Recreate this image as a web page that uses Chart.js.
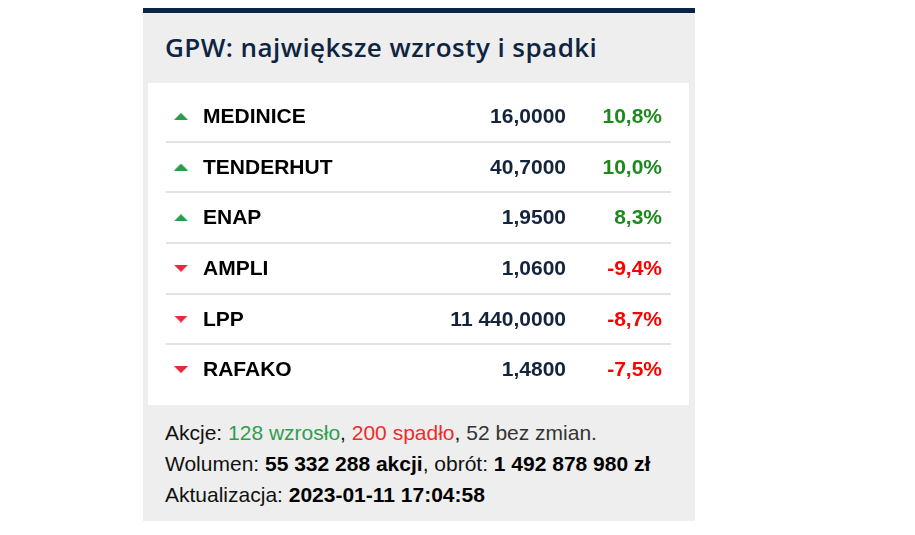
<!DOCTYPE html>
<html lang="pl">
<head>
<meta charset="utf-8">
<script src="https://cdn.jsdelivr.net/npm/chart.js@4/dist/chart.umd.min.js"></script>
<style>
    html, body { margin: 0; padding: 0; background: #ffffff; }
    #panel {
        position: absolute; left: 143px; top: 8px; width: 552px; height: 508px;
        background: #eeeeee; border-top: 5px solid #0a2446;
    }
    #title {
        position: absolute; left: 165px; top: 29px; margin: 0;
        font: 600 26px "Open Sans", sans-serif; letter-spacing: 0.45px;
        color: #0d2442; line-height: 36px; white-space: nowrap;
    }
    #box { position: absolute; left: 148px; top: 83px; width: 541px; height: 322px; background: #ffffff; }
    #footer {
        position: absolute; left: 165px; top: 417px;
        font: 21px "Liberation Sans", Arial, sans-serif; color: #111111; line-height: 31px; white-space: nowrap;
    }
    #footer b { color: #000000; }
    .up { color: #2e9e4c; }
    .down { color: #ee2b2b; }
    .flat { color: #333333; }
</style>
</head>
<body>
<div id="panel"></div>
<h2 id="title">GPW: największe wzrosty i spadki</h2>
<div id="box"><canvas id="chart" width="541" height="322"></canvas></div>
<div id="footer">
    <div>Akcje: <span class="up">128 wzrosło</span>, <span class="down">200 spadło</span>, <span class="flat">52 bez zmian.</span></div>
    <div>Wolumen: <b>55 332 288 akcji</b>, obrót: <b>1 492 878 980 zł</b></div>
    <div>Aktualizacja: <b>2023-01-11 17:04:58</b></div>
</div>
<script>
// spolki z najwiekszymi zmianami
const tickers = ['MEDINICE', 'TENDERHUT', 'ENAP', 'AMPLI', 'LPP', 'RAFAKO'];
const prices = [16.0, 40.7, 1.95, 1.06, 11440.0, 1.48];
const changes = [10.8, 10.0, 8.3, -9.4, -8.7, -7.5];

const COL_NAME = 0.0457;
const COL_PRICE = 0.8004;
const COL_PCT = 1;

const fmtPrice = v => {
    const [int, dec] = v.toFixed(4).split('.');
    return int.replace(/\B(?=(\d{3})+(?!\d))/g, ' ') + ',' + dec;
}
const fmtPct = v => v.toFixed(1).replace('.', ',') + '%';

const _triangle = (color, up) => {
    const c = document.createElement('canvas');
    c.width = 14;
    c.height = 7;
    const ctx = c.getContext('2d');
    ctx.fillStyle = color;
    ctx.beginPath();
    if (up) {
        ctx.moveTo(7, 0); ctx.lineTo(14, 7); ctx.lineTo(0, 7);
    } else {
        ctx.moveTo(0, 0); ctx.lineTo(14, 0); ctx.lineTo(7, 7);
    }
    ctx.closePath();
    ctx.fill();
    return c;
}
const triUp = _triangle('#2b9d48', true);
const triDown = _triangle('#e6283a', false);

const tablePlugin = {
    id: 'tableText',
    beforeDatasetsDraw(chart) {
        const ctx = chart.ctx;
        const y = chart.scales.y;
        ctx.save();
        ctx.strokeStyle = '#e3e3e3';
        ctx.lineWidth = 2;
        for (let i = 0; i < tickers.length - 1; i++) {
            const yy = Math.round((y.getPixelForValue(i) + y.getPixelForValue(i + 1)) / 2);
            ctx.beginPath();
            ctx.moveTo(18, yy);
            ctx.lineTo(523, yy);
            ctx.stroke();
        }
        ctx.restore();
    },
    afterDatasetsDraw(chart) {
        const ctx = chart.ctx;
        const x = chart.scales.x;
        const y = chart.scales.y;
        ctx.save();
        ctx.font = 'bold 21px "Liberation Sans", Arial, sans-serif';
        ctx.textBaseline = 'middle';
        tickers.forEach((t, i) => {
            const yy = y.getPixelForValue(i) + 1;
            ctx.textAlign = 'left';
            ctx.fillStyle = '#000000';
            ctx.fillText(t, x.getPixelForValue(COL_NAME), yy);
            ctx.textAlign = 'right';
            ctx.fillStyle = '#14243d';
            ctx.fillText(fmtPrice(prices[i]), x.getPixelForValue(COL_PRICE), yy);
            ctx.fillStyle = changes[i] >= 0 ? '#1e8a1e' : '#ff0000';
            ctx.fillText(fmtPct(changes[i]), x.getPixelForValue(COL_PCT), yy);
        });
        ctx.restore();
    }
}

new Chart(document.getElementById('chart'), {
    type: 'scatter',
    data: {
        datasets: [{
            data: tickers.map(t => ({ x: 0, y: t })),
            pointStyle: changes.map(c => c >= 0 ? triUp : triDown),
            clip: false,
        }]
    },
    options: {
        responsive: false,
        animation: false,
        layout: { padding: { left: 33, right: 27, top: 8, bottom: 10 } },
        plugins: {
            legend: { display: false },
            tooltip: { enabled: false },
        },
        scales: {
            x: { type: 'linear', min: 0, max: 1, display: false },
            y: { type: 'category', labels: tickers, offset: true, display: false },
        }
    },
    plugins: [tablePlugin]
});
</script>
</body>
</html>
